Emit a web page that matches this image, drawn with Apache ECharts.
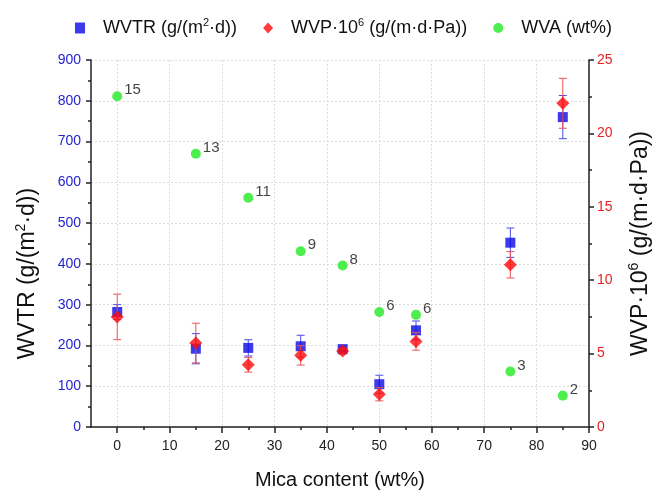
<!DOCTYPE html>
<html>
<head>
<meta charset="utf-8" />
<title>Mica content chart</title>
<script src="https://cdn.jsdelivr.net/npm/echarts@6/dist/echarts.min.js"></script>
<style>
  html, body { margin: 0; padding: 0; background: #fff; }
  #chart { width: 655px; height: 490px; }
</style>
</head>
<body>
<div id="chart"></div>
<script type="text/javascript">
  // data
  var mica = [0, 15, 25, 35, 43, 50, 57, 75, 85];
  var wvtr = [282, 192, 194, 198, 191, 105, 237, 452, 760];
  var wvtrErr = [18, 37, 20, 27, 5, 22, 23, 36, 53];
  var wvp = [7.5, 5.72, 4.24, 4.88, 5.17, 2.23, 5.83, 11.05, 22.05];
  var wvpErr = [1.55, 1.35, 0.5, 0.66, 0.2, 0.45, 0.6, 0.9, 1.7];
  // green points sit on the left scale; their labels are the WVA wt% values
  var wvaY = [811, 670, 562, 431, 396, 282, 275, 136, 77];
  var wvaLabels = ['15', '13', '11', '9', '8', '6', '6', '3', '2'];
  var xMajorTicks = [0, 10, 20, 30, 40, 50, 60, 70, 80, 90];
  var xMinorTicks = [5, 15, 25, 35, 45, 55, 65, 75, 85];

  var FONT = 'Liberation Sans, Arial, sans-serif';
  var BLUE = '#0a0ae6';
  var RED = '#ff0a0a';
  var GREEN = '#22ea22';

  function pairs(xs, ys) {
    return xs.map(function (x, i) { return [x, ys[i]]; });
  }
  function errRows(xs, ys, es) {
    return xs.map(function (x, i) { return [x, ys[i] - es[i], ys[i] + es[i]]; });
  }

  function errorBar(color) {
    return function (params, api) {
      var x = api.value(0);
      var lo = api.coord([x, api.value(1)]);
      var hi = api.coord([x, api.value(2)]);
      var w = 4;
      var style = { stroke: color, lineWidth: 1 };
      return {
        type: 'group',
        children: [
          { type: 'line', shape: { x1: lo[0], y1: lo[1], x2: hi[0], y2: hi[1] }, style: style },
          { type: 'line', shape: { x1: lo[0] - w, y1: lo[1], x2: lo[0] + w, y2: lo[1] }, style: style },
          { type: 'line', shape: { x1: hi[0] - w, y1: hi[1], x2: hi[0] + w, y2: hi[1] }, style: style }
        ]
      };
    };
  }

  var legendText = {
    'WVTR': '{t|WVTR (g/(m}{s|2}{t|\u00b7d))}',
    'WVP': '{t|WVP\u00b710}{s|6}{t| (g/(m\u00b7d\u00b7Pa))}',
    'WVA': '{t|WVA (wt%)}'
  };

  var richSmall = {
    t: { fontSize: 18, fontFamily: FONT, color: '#111', lineHeight: 22 },
    s: { fontSize: 11, fontFamily: FONT, color: '#111', lineHeight: 22, verticalAlign: 'top' }
  };
  var richBig = {
    t: { fontSize: 23, fontFamily: FONT, color: '#111', lineHeight: 28 },
    s: { fontSize: 14, fontFamily: FONT, color: '#111', lineHeight: 28, verticalAlign: 'top' }
  };

  var axisLineStyle = { color: '#222', width: 1.5 };
  var gridLine = { show: true, lineStyle: { color: '#dcdcdc', type: [2, 2], width: 1 } };

  var option = {
    animation: false,
    backgroundColor: '#fff',
    legend: {
      data: [
        { name: 'WVTR', icon: 'rect' },
        { name: 'WVP', icon: 'diamond' },
        { name: 'WVA', icon: 'circle' }
      ],
      left: 70,
      top: 12,
      itemWidth: 10,
      itemHeight: 11,
      itemGap: 26,
      formatter: function (name) { return legendText[name]; },
      textStyle: { rich: richSmall, padding: [0, 0, 0, 13] }
    },
    grid: { left: 91, right: 66, top: 60, bottom: 63, outerBoundsMode: 'none', containLabel: false },
    xAxis: [
      {
        type: 'value', min: -5, max: 90,
        name: 'Mica content (wt%)', nameLocation: 'middle', nameGap: 43,
        nameTextStyle: { fontSize: 20, fontFamily: FONT, color: '#111' },
        axisLine: { show: true, onZero: false, lineStyle: axisLineStyle },
        axisTick: { show: true, inside: false, length: 6, customValues: xMajorTicks, lineStyle: axisLineStyle },
        axisLabel: { customValues: xMajorTicks, fontSize: 14, fontFamily: FONT, color: '#222', margin: 12 },
        splitLine: gridLine
      },
      {
        type: 'value', min: -5, max: 90, position: 'bottom',
        axisLine: { show: false, onZero: false },
        axisTick: { show: true, inside: false, length: 3, customValues: xMinorTicks, lineStyle: axisLineStyle },
        axisLabel: { show: false },
        splitLine: { show: false }
      }
    ],
    yAxis: [
      {
        type: 'value', min: 0, max: 900, interval: 100, position: 'left',
        name: '{t|WVTR (g/(m}{s|2}{t|\u00b7d))}', nameLocation: 'middle', nameGap: 49,
        nameTextStyle: { rich: richBig, padding: [0, 60, 0, 0] },
        axisLine: { show: true, onZero: false, lineStyle: axisLineStyle },
        axisTick: { show: true, inside: false, length: 5, lineStyle: axisLineStyle },
        minorTick: { show: true, splitNumber: 2, length: 3, lineStyle: axisLineStyle },
        axisLabel: { fontSize: 14, fontFamily: FONT, color: '#2323d2', margin: 10 },
        splitLine: gridLine
      },
      {
        type: 'value', min: 0, max: 25, interval: 5, position: 'right',
        name: '{t|WVP\u00b710}{s|6}{t| (g/(m\u00b7d\u00b7Pa))}', nameLocation: 'middle', nameGap: 38,
        nameTextStyle: { rich: richBig },
        axisLine: { show: true, onZero: false, lineStyle: axisLineStyle },
        axisTick: { show: true, inside: false, length: 5, lineStyle: axisLineStyle },
        minorTick: { show: true, splitNumber: 2, length: 3, lineStyle: axisLineStyle },
        axisLabel: { fontSize: 14, fontFamily: FONT, color: '#e52222', margin: 8 },
        splitLine: { show: false }
      }
    ],
    series: [
      {
        name: 'WVTR-err', type: 'custom', xAxisIndex: 0, yAxisIndex: 0,
        renderItem: errorBar('#4a4ae6'),
        encode: { x: 0, y: [1, 2] },
        data: errRows(mica, wvtr, wvtrErr), z: 2
      },
      {
        name: 'WVTR', type: 'scatter', xAxisIndex: 0, yAxisIndex: 0,
        symbol: 'rect', symbolSize: 10,
        itemStyle: { color: BLUE },
        data: pairs(mica, wvtr), z: 3
      },
      {
        name: 'WVP-err', type: 'custom', xAxisIndex: 0, yAxisIndex: 1,
        renderItem: errorBar('#ea5454'),
        encode: { x: 0, y: [1, 2] },
        data: errRows(mica, wvp, wvpErr), z: 4
      },
      {
        name: 'WVP', type: 'scatter', xAxisIndex: 0, yAxisIndex: 1,
        symbol: 'diamond', symbolSize: 13,
        itemStyle: { color: RED },
        data: pairs(mica, wvp), z: 5
      },
      {
        name: 'WVA', type: 'scatter', xAxisIndex: 0, yAxisIndex: 0,
        symbol: 'circle', symbolSize: 10,
        itemStyle: { color: GREEN },
        label: {
          show: true, position: 'right', distance: 2, offset: [0, -6],
          fontSize: 15, fontFamily: FONT, color: '#111',
          formatter: function (p) { return wvaLabels[p.dataIndex]; }
        },
        data: pairs(mica, wvaY), z: 6
      }
    ]
  };

  var myChart = echarts.init(document.getElementById('chart'));
  myChart.setOption(option);
</script>
</body>
</html>
